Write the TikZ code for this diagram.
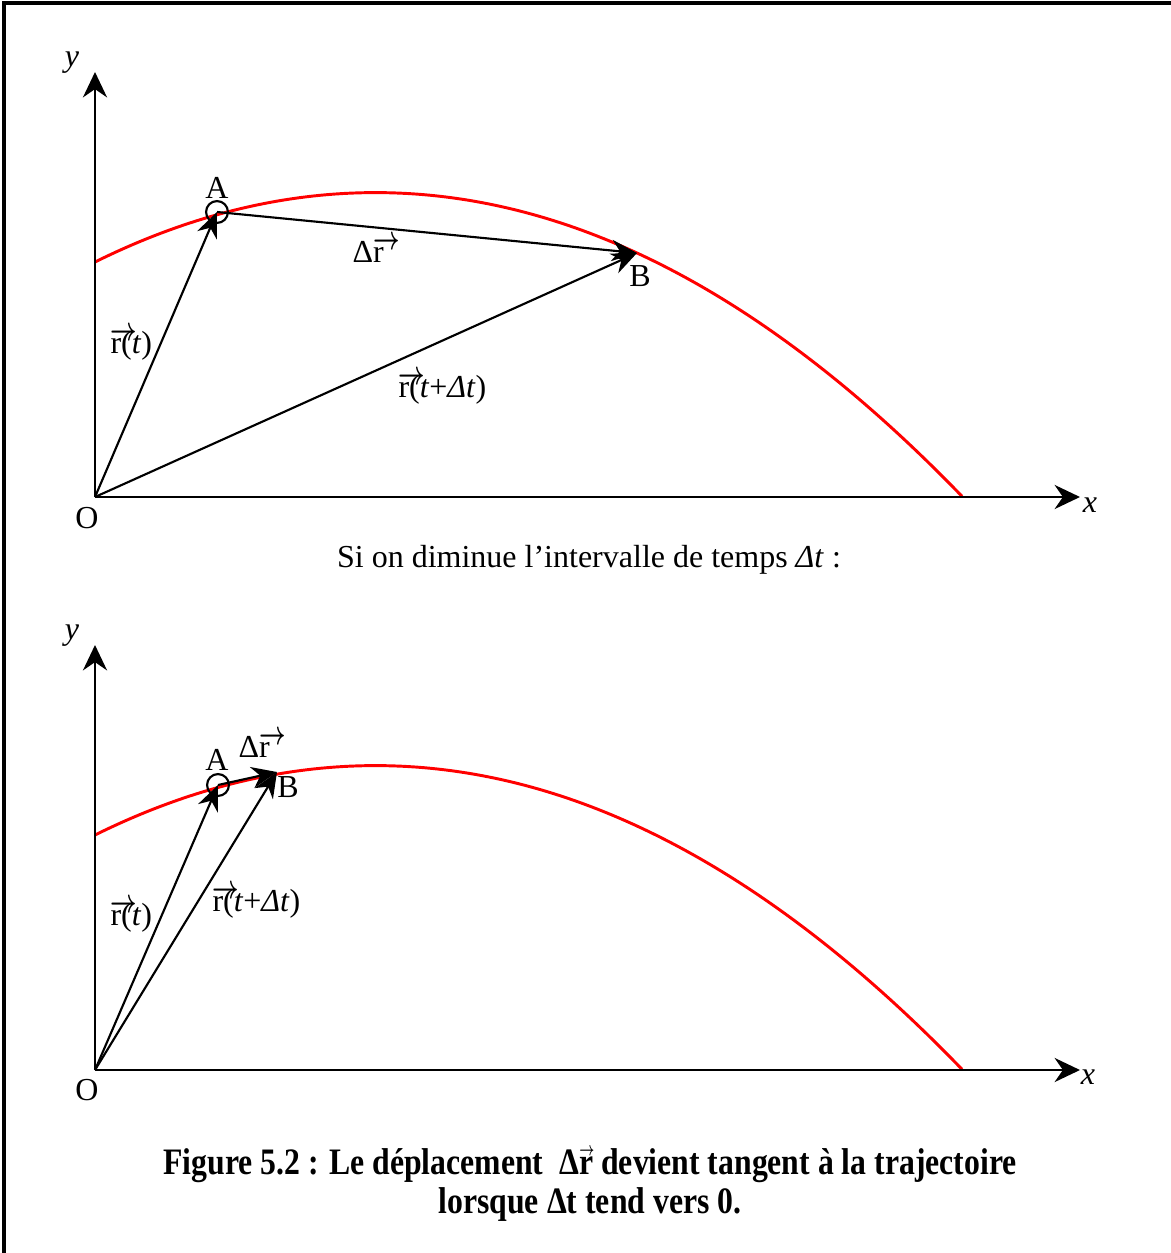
\documentclass[tikz,border=0pt]{standalone}
\usepackage{fontspec}
\usepackage{graphicx}
\setmainfont{Liberation Serif}
\usetikzlibrary{arrows.meta}
\newcommand{\vecr}{\makebox[0pt][l]{\raisebox{0.4em}{\scalebox{0.72}[1.05]{\boldmath$\rightarrow$}}}r}
\newcommand{\vecrb}{\makebox[0pt][l]{\raisebox{0.5em}{\scalebox{0.4}[0.5]{\boldmath$\rightarrow$}}}r}

\begin{document}
\begin{tikzpicture}[x=0.375pt, y=-0.375pt, font=\fontsize{12}{14}\selectfont]
    \tikzset{axis/.style = {line width=1.1pt, -{Stealth[length=9.5pt, width=9pt]}}}
    \tikzset{vect/.style = {line width=0.8pt, -{Stealth[length=9.5pt, width=8pt]}}}
    \tikzset{traj/.style = {red, line width=1.1pt}}
    \tikzset{pt/.style = {circle, draw, line width=0.8pt, minimum size=8.2pt, inner sep=0pt}}
    \tikzset{lbl/.style = {inner sep=0pt}}

    \useasboundingbox (0,0) rectangle (1171,1253);
    \draw[line width=1.3pt] (4,1253) -- (4,3) -- (1171,3);

    % first picture
    \coordinate (O1) at (95,497);
    \coordinate (X1) at (1080,497);
    \coordinate (Y1) at (95,72);
    \coordinate (B1) at (637,253);
    \draw[traj] plot[domain=95:962, samples=120] (\x, {192.6+(0.029715*(\x-375.4))^2});
    \draw[axis] (O1) -- (X1);
    \draw[axis] (O1) -- (Y1);
    \node[pt] (A1) at (217,212) {};
    \draw[vect] (O1) -- (A1.center);
    \draw[vect] (O1) -- (B1);
    \draw[vect] (A1.center) -- (B1);

    \node[lbl, anchor=base] (y1) at (72,66) {\textit{y}};
    \node[lbl, anchor=base] (x1) at (1090,512) {\textit{x}};
    \node[lbl, anchor=base] (o1) at (87,528) {O};
    \node[lbl, anchor=base] (a1) at (217,198) {A};
    \node[lbl, anchor=base] (b1) at (640,286) {B};
    \node[lbl, anchor=base west] (dr1) at (352,262) {Δ\vecr};
    \node[lbl, anchor=base west] (rt1) at (110,353) {\vecr(\textit{t})};
    \node[lbl, anchor=base west] (rtd1) at (398,397) {\vecr(\textit{t}+\textit{Δt})};

    \node[lbl, anchor=base] (si) at (589,567) {Si on diminue l’intervalle de temps \textit{Δt} :};

    % second picture
    \coordinate (O2) at (95,1070);
    \coordinate (X2) at (1080,1070);
    \coordinate (Y2) at (95,645);
    \coordinate (B2) at (277,772);
    \draw[traj] plot[domain=95:962, samples=120] (\x, {765.6+(0.029715*(\x-375.4))^2});
    \draw[axis] (O2) -- (X2);
    \draw[axis] (O2) -- (Y2);
    \node[pt] (A2) at (218,785) {};
    \draw[vect] (O2) -- (A2.center);
    \draw[vect] (O2) -- (B2);
    \draw[vect] (A2.center) -- (B2);

    \node[lbl, anchor=base] (y2) at (72,639) {\textit{y}};
    \node[lbl, anchor=base] (x2) at (1088,1084) {\textit{x}};
    \node[lbl, anchor=base] (o2) at (87,1100) {O};
    \node[lbl, anchor=base] (a2) at (217,770) {A};
    \node[lbl, anchor=base] (b2) at (288,797) {B};
    \node[lbl, anchor=base west] (dr2) at (238,757) {Δ\vecr};
    \node[lbl, anchor=base west] (rt2) at (110,925) {\vecr(\textit{t})};
    \node[lbl, anchor=base west] (rtd2) at (212,911) {\vecr(\textit{t}+\textit{Δt})};

    % caption
    \node[lbl, anchor=base] (cap1) at (590,1174) {\fontsize{14}{16}\selectfont\bfseries
        \scalebox{0.85}[1]{Figure 5.2 : Le déplacement \ Δ\vecrb\ devient tangent à la trajectoire}};
    \node[lbl, anchor=base] (cap2) at (590,1213) {\fontsize{14}{16}\selectfont\bfseries
        \scalebox{0.85}[1]{lorsque Δt tend vers 0.}};
\end{tikzpicture}
\end{document}
